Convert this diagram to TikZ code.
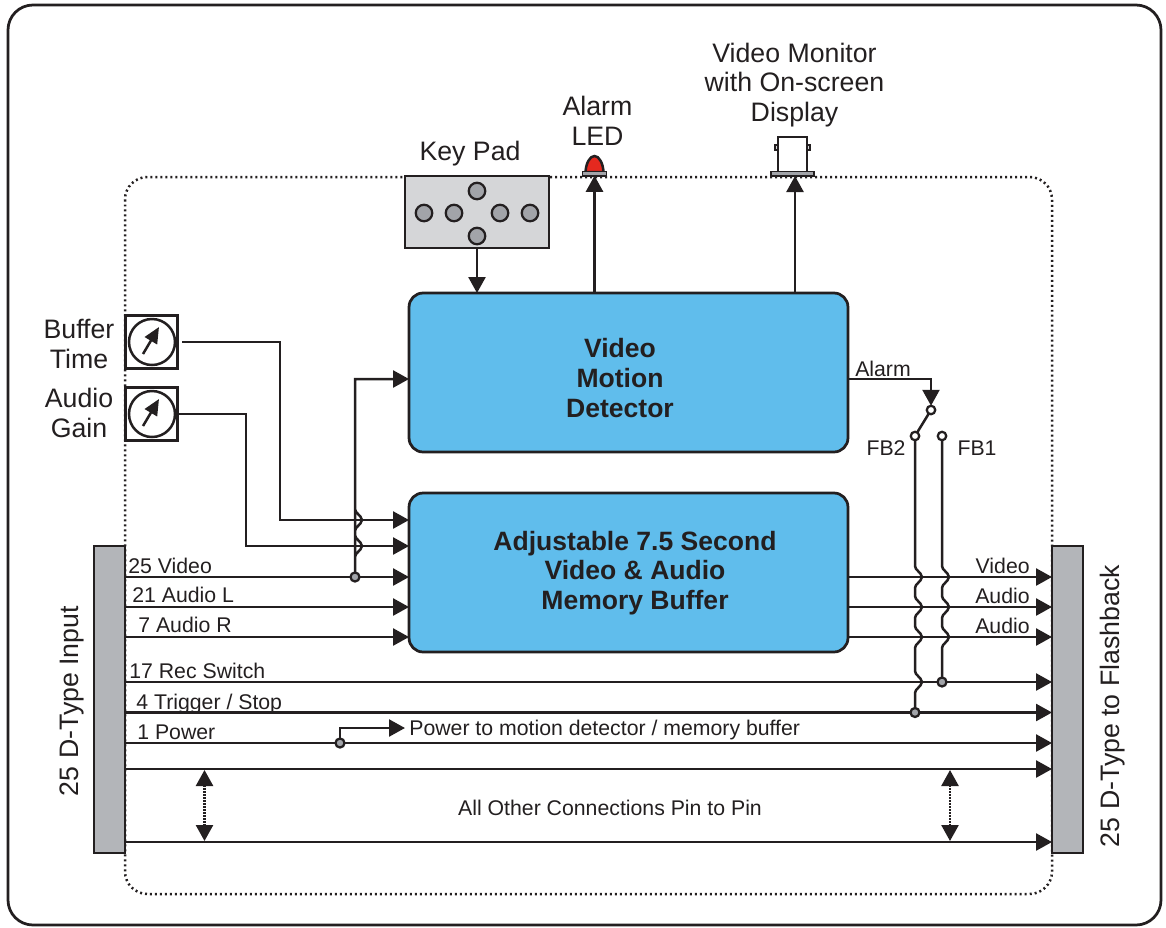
\documentclass[tikz,border=0pt]{standalone}
\usepackage{fontspec}
\setmainfont{Liberation Sans}
\usetikzlibrary{arrows.meta}

\definecolor{inkblack}{HTML}{231F20}
\definecolor{blockblue}{HTML}{60BDEC}
\definecolor{bargray}{HTML}{B3B5B9}
\definecolor{padgray}{HTML}{D5D6D8}
\definecolor{keygray}{HTML}{A2A4A9}
\definecolor{ledred}{HTML}{E5291F}

\tikzset{
  wire/.style={line width=0.05cm, draw=inkblack, line join=miter},
  arrowwire/.style={wire, -{Triangle[length=0.32cm, width=0.34cm]}},
  needle/.style={wire, -{Triangle[length=0.32cm, width=0.28cm]}},
  spanwire/.style={wire, dash pattern=on 0.03cm off 0.03cm,
    {Triangle[length=0.32cm, width=0.34cm]}-{Triangle[length=0.32cm, width=0.34cm]}},
  block/.style={draw=inkblack, line width=0.055cm, fill=blockblue, rounded corners=0.28cm,
    minimum width=8.78cm, minimum height=3.18cm, outer sep=0pt},
  blocktext/.style={align=center, text=inkblack, inner sep=0pt,
    font=\fontsize{15.1}{17}\selectfont\bfseries},
  bar/.style={draw=inkblack, line width=0.055cm, fill=bargray, minimum width=0.62cm,
    minimum height=6.14cm, outer sep=0pt},
  dialbox/.style={draw=inkblack, line width=0.06cm, fill=white, minimum width=1.06cm,
    minimum height=1.07cm, outer sep=0pt},
  keybtn/.style={circle, draw=inkblack, line width=0.045cm, fill=keygray, minimum size=0.33cm,
    inner sep=0pt},
  joint/.style={circle, draw=inkblack, line width=0.045cm, fill=keygray, minimum size=0.18cm,
    inner sep=0pt, outer sep=0pt},
  terminal/.style={circle, draw=inkblack, line width=0.045cm, fill=white, minimum size=0.17cm,
    inner sep=0pt, outer sep=0pt},
  biglabel/.style={align=center, text=inkblack, inner sep=0pt, font=\fontsize{15.2}{17}\selectfont},
  smalllabel/.style={text=inkblack, inner sep=0pt, font=\fontsize{12.1}{14}\selectfont},
}

\newcommand{\hopat}[2]{-- (#1,#2-11) .. controls +(0,4) and +(-1,-5) .. (#1+7,#2)
  .. controls +(-1,5) and +(0,-4) .. (#1,#2+11)}

\begin{document}
\begin{tikzpicture}[x=0.02cm, y=-0.02cm]

\useasboundingbox (0,0) rectangle (1166,927);

\draw[line width=0.055cm, draw=inkblack, rounded corners=0.5cm] (8,5) rectangle (1161,925);
\draw[line width=0.05cm, draw=inkblack, dash pattern=on 0.04cm off 0.06cm, rounded corners=0.45cm] (125,177) rectangle (1052,894);

\node (input) at (109.5,699.5) [bar] {};
\node (output) at (1067.5,699.5) [bar] {};
\node (inputlabel) at (72,701) [biglabel, rotate=90] {25 D-Type Input};
\node (outputlabel) at (1113,706) [biglabel, rotate=90] {25 D-Type to Flashback};

\node (detector) at (628.5,372.5) [block] {};
\node (detectorlabel) at (620,378) [blocktext] {Video\\Motion\\Detector};
\node (buffer) at (628.5,572.5) [block] {};
\node (bufferlabel) at (635,573) [blocktext] {Adjustable 7.5 Second\\Video \& Audio\\Memory Buffer};

\node (keypad) at (477,212) [draw=inkblack, line width=0.055cm, fill=padgray, minimum width=2.88cm,
  minimum height=1.44cm, outer sep=0pt] {};
\node (keya) at (424,213) [keybtn] {};
\node (keyb) at (454,213) [keybtn] {};
\node (keyc) at (500,213) [keybtn] {};
\node (keyd) at (530,213) [keybtn] {};
\node (keye) at (477,191) [keybtn] {};
\node (keyf) at (477,236) [keybtn] {};
\node (keylabel) at (470,154) [biglabel] {Key Pad};

\draw[wire, fill=ledred] (585.5,172) .. controls (586,163) and (590,156) .. (594.5,156) .. controls (599,156) and (603,163) .. (603.5,172) -- cycle;
\node (led) at (594.5,173.5) [draw=inkblack, line width=0.03cm, fill=keygray, minimum width=0.48cm,
  minimum height=0.09cm, inner sep=0pt, outer sep=0pt] {};
\node (ledlabel) at (597.5,121) [biglabel] {Alarm\\LED};

\draw[line width=0.025cm, draw=inkblack, fill=padgray] (775,145) rectangle (779,150);
\draw[line width=0.025cm, draw=inkblack, fill=padgray] (806,145) rectangle (810,150);
\draw[wire, fill=white] (778,171) -- (778,137) -- (807,137) -- (807,171);
\node (monitor) at (792.5,173.5) [draw=inkblack, line width=0.03cm, fill=keygray, minimum width=0.86cm,
  minimum height=0.09cm, inner sep=0pt, outer sep=0pt] {};
\node (monitorlabel) at (794.5,85) [biglabel] {Video Monitor\\with On-screen\\Display};

\node (dialtime) at (151.5,342) [dialbox] {};
\draw[wire] (152,342) circle (23);
\draw[needle] (143,354) -- (159,327);
\node (timelabel) at (79,344) [biglabel] {Buffer\\Time};

\node (dialgain) at (151.5,414) [dialbox] {};
\draw[wire] (152,414) circle (23);
\draw[needle] (143,426) -- (159,399);
\node (gainlabel) at (79,413) [biglabel] {Audio\\Gain};

\coordinate (timeout) at (182,342);
\draw[arrowwire] (timeout) -- (280,342) -- (280,520) -- (buffer.west |- 0,520);
\draw[arrowwire] (dialgain.east) -- (246,414) -- (246,546) -- (buffer.west |- 0,546);

\draw[arrowwire] (input.east |- 0,577) -- (buffer.west |- 0,577);
\draw[arrowwire] (input.east |- 0,607) -- (buffer.west |- 0,607);
\draw[arrowwire] (input.east |- 0,637) -- (buffer.west |- 0,637);
\node (videotap) at (355,577) [joint] {};
\draw[arrowwire] (videotap) \hopat{355}{546} \hopat{355}{520} -- (355,379) -- (detector.west |- 0,379);

\node at (128,573) [smalllabel, anchor=base west] {25 Video};
\node at (132,602) [smalllabel, anchor=base west] {21 Audio L};
\node at (138,632) [smalllabel, anchor=base west] {7 Audio R};
\node at (129,678) [smalllabel, anchor=base west] {17 Rec Switch};
\node at (136,709) [smalllabel, anchor=base west] {4 Trigger / Stop};
\node at (137,739) [smalllabel, anchor=base west] {1 Power};

\draw[arrowwire] (keypad.south) -- (detector.north -| keypad.south);
\draw[arrowwire] (detector.north -| led.south) -- (led.south);
\draw[arrowwire] (detector.north -| 795,0) -- (795,176);

\draw[arrowwire] (buffer.east |- 0,577) -- (output.west |- 0,577);
\draw[arrowwire] (buffer.east |- 0,607) -- (output.west |- 0,607);
\draw[arrowwire] (buffer.east |- 0,637) -- (output.west |- 0,637);
\node at (1030,573) [smalllabel, anchor=base east] {Video};
\node at (1030,603) [smalllabel, anchor=base east] {Audio};
\node at (1030,633) [smalllabel, anchor=base east] {Audio};

\draw[arrowwire] (input.east |- 0,682) -- (output.west |- 0,682);
\draw[arrowwire] (input.east |- 0,712.5) -- (output.west |- 0,712.5);
\draw[arrowwire] (input.east |- 0,743) -- (output.west |- 0,743);
\draw[arrowwire] (input.east |- 0,769) -- (output.west |- 0,769);
\draw[arrowwire] (input.east |- 0,842) -- (output.west |- 0,842);

\node (powertap) at (340,743) [joint] {};
\coordinate (powerend) at (405,728);
\draw[arrowwire] (powertap) |- (powerend);
\node at (409,735) [smalllabel, anchor=base west] {Power to motion detector / memory buffer};

\node (pivot) at (931,410) [terminal] {};
\node (fbtwo) at (915,436) [terminal] {};
\node (fbone) at (942,436) [terminal] {};
\draw[wire] (pivot) -- (fbtwo);
\draw[arrowwire] (detector.east |- 0,379) -- (931,379) -- (pivot);
\node at (883,376) [smalllabel, anchor=base] {Alarm};
\node at (886,455) [smalllabel, anchor=base] {FB2};
\node at (977,455) [smalllabel, anchor=base] {FB1};

\node (fbonetap) at (942,682) [joint] {};
\node (fbtwotap) at (915,712.5) [joint] {};
\draw[wire] (fbone) \hopat{942}{577} \hopat{942}{607} \hopat{942}{637} -- (fbonetap);
\draw[wire] (fbtwo) \hopat{915}{577} \hopat{915}{607} \hopat{915}{637} \hopat{915}{682} -- (fbtwotap);

\coordinate (spanatop) at (204.5,770);
\coordinate (spanabot) at (204.5,841);
\coordinate (spanbtop) at (950,770);
\coordinate (spanbbot) at (950,841);
\draw[spanwire] (spanatop) -- (spanabot);
\draw[spanwire] (spanbtop) -- (spanbbot);
\node at (610,815) [smalllabel, anchor=base] {All Other Connections Pin to Pin};

\end{tikzpicture}
\end{document}
